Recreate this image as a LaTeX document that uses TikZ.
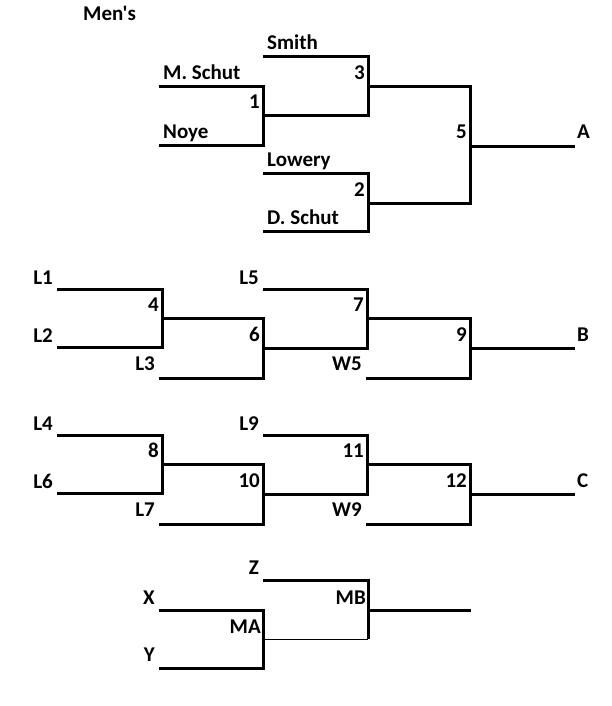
\documentclass[tikz,border=0pt]{standalone}
\usepackage{fontspec}
\setmainfont{Carlito}[Ligatures=TeXOff]
\tikzset{
  bline/.style={line width=3pt},
  tline/.style={line width=1pt},
  lbl/.style={font=\bfseries\fontsize{21}{25}\selectfont,inner sep=0pt},
}
\begin{document}
\begin{tikzpicture}[x=1pt,y=-1pt,line join=miter]
	\useasboundingbox (0,0) rectangle (611,706);
	\node[lbl,anchor=base west] (mens) at (83,21) {Men's};
	% first bracket
	\path
	(159,87) coordinate (mschut)
	(159,145) coordinate (noye)
	(263,57) coordinate (smith)
	(263,173) coordinate (lowery)
	(263,231) coordinate (dschut)
	(263,116) coordinate (m1)
	(368,87) coordinate (m3)
	(368,203) coordinate (m2)
	(470,146) coordinate (m5)
	(575,146) coordinate (A)
	;
	\draw[bline] (mschut) -| (m1) |- (noye);
	\draw[bline] (smith) -| (m3) |- (m1);
	\draw[bline] (lowery) -| (m2) |- (dschut);
	\draw[bline] (m3) -| (m5) |- (m2);
	\draw[bline] (m5) -- (A);
	\foreach \c/\t in {mschut/M. Schut,noye/Noye,smith/Smith,lowery/Lowery,dschut/D. Schut}
	\node[lbl,anchor=base west,xshift=4pt,yshift=7pt] (\c-t) at (\c) {\t};
	\foreach \m in {1,2,3,5}
	\node[lbl,anchor=base east,xshift=-3pt,yshift=7pt] (n\m) at (m\m) {\m};
	% second and third brackets
	\foreach \dy/\ma/\mb/\mc/\md/\ea/\eb/\ec/\ed/\ee/\fin in
	{0/4/6/7/9/L1/L2/L3/L5/W5/B,146/8/10/11/12/L4/L6/L7/L9/W9/C}
	{
		\path[shift={(0,\dy)}]
		(57,289) coordinate (p\ea)
		(57,347) coordinate (p\eb)
		(159,378) coordinate (p\ec)
		(263,289) coordinate (p\ed)
		(366,378) coordinate (p\ee)
		(162,318) coordinate (m\ma)
		(263,348) coordinate (m\mb)
		(367,318) coordinate (m\mc)
		(470,348) coordinate (m\md)
		(575,348) coordinate (\fin)
		;
		\draw[bline] (p\ea) -| (m\ma) |- (p\eb);
		\draw[bline] (m\ma) -| (m\mb) |- (p\ec);
		\draw[bline] (p\ed) -| (m\mc) |- (m\mb);
		\draw[bline] (m\mc) -| (m\md) |- (p\ee);
		\draw[bline] (m\md) -- (\fin);
		\foreach \e in {\ea,\eb,\ed}
		\node[lbl,anchor=base east,xshift=-4pt,yshift=5pt] (\e) at (p\e) {\e};
		\foreach \e in {\ec,\ee}
		\node[lbl,anchor=base east,xshift=-4pt,yshift=8pt] (\e) at (p\e) {\e};
		\foreach \m in {\ma,\mb,\mc,\md}
		\node[lbl,anchor=base east,xshift=-3pt,yshift=7pt] (n\m) at (m\m) {\m};
	}
	\foreach \f in {A,B,C}
	\node[lbl,anchor=base west,xshift=2pt,yshift=7pt] (\f-t) at (\f) {\f};
	% last bracket
	\path
	(159,610) coordinate (pX)
	(159,668) coordinate (pY)
	(263,580) coordinate (pZ)
	(263,639) coordinate (mMA)
	(368,610) coordinate (mMB)
	(471,610) coordinate (out)
	;
	\draw[bline] (pX) -| (mMA) |- (pY);
	\draw[tline] (mMA) -- (mMA -| mMB);
	\draw[bline] (pZ) -| (mMB) -- (mMB |- mMA);
	\draw[bline] (mMB) -- (out);
	\foreach \e/\dy in {X/6,Y/7,Z/6}
	\node[lbl,anchor=base east,xshift=-4pt,yshift=\dy pt] (\e) at (p\e) {\e};
	\foreach \m in {MA,MB}
	\node[lbl,anchor=base east,xshift=-2pt,yshift=6pt] (n\m) at (m\m) {\m};
\end{tikzpicture}
\end{document}
